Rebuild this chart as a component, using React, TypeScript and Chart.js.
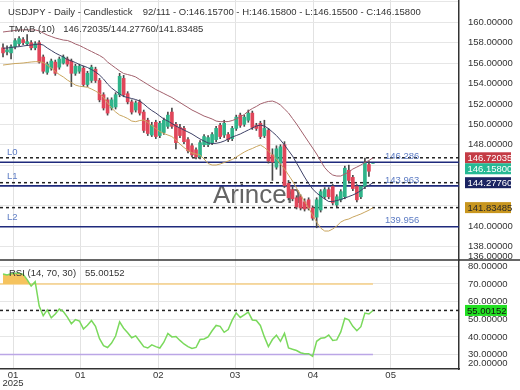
import React, { useEffect, useRef } from 'react';
import { Chart, registerables } from 'chart.js';

Chart.register(...registerables);

const FONT = "'Liberation Sans', Arial, sans-serif";

// ---------- data ----------
const symbolTitle = 'USDJPY - Daily - Candlestick';
const barCounter = '92/111';

const opens = [
  157.5, 157.1, 157.0, 157.6, 157.9, 158.3, 157.9, 158.0, 157.5, 158.0,
  156.6, 155.1, 155.5, 156.1, 155.6, 156.0, 156.4, 156.2, 155.0, 155.2,
  155.5, 153.9, 154.3, 155.4, 154.3, 152.9, 152.4, 151.6, 151.7, 152.9,
  154.5, 153.0, 152.2, 151.4, 152.2, 151.2, 150.4, 148.95, 150.2, 148.9,
  149.2, 149.8, 151.2, 150.0, 149.7, 149.6, 148.5, 147.9, 147.5, 146.8,
  148.0, 148.0, 148.2, 148.5, 149.9, 148.95, 149.0, 148.6, 149.6, 150.9,
  150.0, 150.4, 151.1, 149.9, 150.1, 148.9, 149.4, 147.0, 145.8, 146.2,
  148.0, 144.2, 143.6, 142.8, 142.9, 142.4, 142.6, 141.8, 140.9, 141.6,
  142.9, 143.6, 143.9, 142.1, 142.6, 142.9, 145.5, 144.8, 143.9, 142.9,
  143.9, 146.05, 146.157,
];
const highs = [
  157.9, 157.7, 157.8, 158.4, 158.6, 158.5, 158.8, 158.2, 158.1, 158.2,
  156.8, 156.1, 156.4, 156.3, 156.6, 156.8, 156.6, 156.4, 155.9, 155.9,
  155.7, 155.2, 155.8, 155.6, 154.5, 153.1, 152.6, 152.6, 153.1, 155.0,
  154.8, 153.2, 152.4, 152.3, 152.4, 151.4, 150.6, 150.2, 150.4, 150.3,
  150.6, 151.2, 151.6, 150.2, 150.0, 149.8, 148.7, 148.1, 147.7, 148.4,
  149.0, 148.9, 149.2, 149.8, 150.1, 150.4, 149.2, 149.8, 150.9, 151.1,
  150.9, 151.4, 151.3, 150.1, 150.3, 150.4, 149.6, 147.6, 147.9, 148.0,
  148.3, 144.5, 143.9, 143.0, 143.1, 142.7, 142.8, 142.0, 142.8, 143.6,
  143.8, 143.8, 144.1, 143.1, 143.6, 145.9, 146.0, 145.0, 144.1, 144.0,
  146.7, 146.35, 146.158,
];
const lows = [
  156.6, 156.8, 156.4, 157.4, 157.7, 157.8, 157.7, 157.3, 157.3, 156.0,
  155.0, 154.9, 155.3, 154.8, 155.4, 155.9, 155.7, 153.7, 154.8, 155.0,
  153.7, 153.7, 154.1, 154.1, 152.2, 151.4, 150.9, 151.4, 151.5, 152.7,
  152.7, 152.0, 151.0, 151.2, 150.9, 149.2, 148.9, 148.8, 148.6, 148.7,
  149.0, 149.6, 149.6, 147.6, 148.7, 148.1, 147.2, 146.8, 146.6, 146.6,
  147.8, 147.8, 148.0, 148.3, 148.6, 148.7, 148.3, 148.4, 149.4, 149.7,
  149.8, 150.2, 149.5, 149.4, 148.6, 148.7, 146.2, 144.5, 145.6, 145.0,
  143.8, 142.6, 142.5, 141.7, 141.6, 141.5, 141.6, 140.6, 139.86, 141.4,
  142.7, 142.7, 142.1, 141.9, 142.4, 142.7, 144.3, 143.5, 142.4, 142.7,
  143.7, 144.9, 146.155,
];
const closes = [
  157.0, 157.3, 157.6, 158.2, 158.4, 158.0, 158.1, 157.5, 157.9, 156.1,
  155.2, 155.9, 156.2, 155.0, 156.4, 156.6, 155.9, 155.0, 155.7, 155.7,
  153.9, 155.0, 155.6, 154.3, 152.4, 151.6, 151.1, 152.4, 152.9, 154.7,
  152.9, 152.2, 151.2, 152.1, 151.1, 149.4, 149.1, 149.9, 148.8, 150.1,
  150.4, 150.9, 149.8, 148.2, 148.9, 148.3, 147.4, 147.0, 146.8, 148.2,
  148.8, 148.7, 149.0, 149.6, 148.8, 150.1, 148.5, 149.6, 150.7, 149.9,
  150.7, 151.1, 149.7, 149.6, 148.8, 149.6, 146.4, 146.3, 147.6, 147.8,
  144.0, 142.8, 142.7, 141.9, 141.8, 141.7, 141.8, 140.8, 142.6, 143.4,
  143.6, 142.9, 142.3, 142.9, 143.4, 145.7, 144.5, 143.7, 142.6, 143.9,
  146.2, 145.4, 146.158,
];

const tmabUpper = [
  159.05, 159.10, 159.15, 159.20, 159.25, 159.25, 159.25, 159.25, 159.25, 159.15,
  158.95, 158.75, 158.61, 158.46, 158.36, 158.26, 158.22, 158.07, 157.87, 157.73,
  157.53, 157.33, 157.14, 156.94, 156.75, 156.50, 156.11, 155.81, 155.52, 155.23,
  154.98, 154.88, 154.78, 154.64, 154.39, 154.15, 153.90, 153.66, 153.41, 153.22,
  153.02, 152.82, 152.63, 152.38, 152.14, 151.89, 151.65, 151.40, 151.21, 151.01,
  150.81, 150.67, 150.52, 150.32, 150.26, 150.26, 150.27, 150.37, 150.52, 150.72,
  150.96, 151.30, 151.55, 151.75, 151.99, 152.14, 152.24, 152.28, 152.14, 151.89,
  151.50, 151.11, 150.57, 150.03, 149.44, 148.85, 148.26, 147.68, 147.09, 146.40,
  145.76, 145.32, 145.03, 144.93, 144.93, 145.13, 145.32, 145.62, 145.81, 146.01,
  146.26, 146.45, 146.72035,
];
const tmabMid = [
  157.45, 157.48, 157.53, 157.58, 157.61, 157.68, 157.73, 157.77, 157.82, 157.87,
  157.77, 157.48, 157.24, 156.99, 156.79, 156.60, 156.35, 156.21, 156.06, 155.86,
  155.72, 155.57, 155.37, 155.13, 154.83, 154.44, 153.95, 153.56, 153.26, 152.97,
  152.73, 152.63, 152.53, 152.43, 152.28, 151.99, 151.65, 151.35, 151.11, 150.81,
  150.52, 150.32, 150.08, 149.83, 149.64, 149.44, 149.25, 149.05, 148.80, 148.56,
  148.36, 148.17, 148.12, 148.14, 148.22, 148.36, 148.56, 148.75, 148.90, 149.05,
  149.25, 149.44, 149.64, 149.83, 149.93, 149.83, 149.59, 149.25, 148.90, 148.46,
  147.97, 147.43, 146.89, 146.21, 145.52, 144.83, 144.20, 143.66, 143.26, 142.97,
  142.68, 142.43, 142.43, 142.53, 142.63, 142.77, 142.92, 143.07, 143.26, 143.51,
  143.85, 144.02, 144.2776,
];
const tmabLower = [
  155.81, 155.86, 155.91, 155.96, 155.98, 156.01, 156.06, 156.11, 156.14, 156.14,
  156.06, 155.81, 155.52, 155.18, 154.88, 154.64, 154.34, 154.10, 153.85, 153.73,
  153.69, 153.63, 153.46, 153.26, 153.02, 152.63, 152.09, 151.60, 151.21, 150.91,
  150.76, 150.57, 150.32, 150.26, 150.37, 150.42, 150.18, 149.88, 149.59, 149.29,
  149.10, 148.95, 148.80, 148.46, 148.07, 147.73, 147.43, 147.19, 147.09, 146.99,
  146.60, 146.16, 146.01, 146.01, 146.11, 146.26, 146.40, 146.55, 146.79, 147.04,
  147.28, 147.48, 147.63, 147.82, 147.97, 147.73, 147.38, 146.99, 146.60, 146.11,
  145.62, 145.03, 144.44, 143.75, 143.07, 142.43, 141.79, 141.11, 140.42, 139.83,
  139.54, 139.54, 139.74, 140.03, 140.42, 140.62, 140.72, 140.91, 141.06, 141.21,
  141.40, 141.58, 141.83485,
];

const rsiValues = [
  75.7, 75.1, 75.8, 76.1, 76.1, 75.5, 72.5, 68.8, 71.3, 57.5,
  52.0, 55.3, 50.8, 53.0, 55.8, 54.4, 51.2, 47.5, 49.8, 49.0,
  44.5, 46.6, 49.3, 46.0, 39.0, 35.0, 34.0, 36.5, 40.5, 48.5,
  44.9, 42.4, 39.5, 40.6, 37.5, 34.5, 33.7, 35.5, 34.5, 33.7,
  37.0, 42.0, 40.0, 40.2, 38.0, 36.0, 34.5, 33.4, 34.0, 38.5,
  38.8, 40.0, 43.5, 46.5, 46.0, 42.6, 44.2, 49.5, 53.5, 51.0,
  52.5, 54.0, 49.6, 49.3, 46.5, 40.0, 34.5, 38.5, 41.0, 37.5,
  42.0, 33.8, 33.0, 32.3, 31.0, 30.5, 30.5, 29.0, 37.5, 39.2,
  39.5, 41.0, 38.0, 38.3, 42.8, 50.6, 49.7, 46.0, 43.5, 45.8,
  53.5, 53.0, 55.00152,
];
const rsiUpperLevel = 70;
const rsiLowerLevel = 30;

const levelNames = ['L0', 'L1', 'L2'];
const levelValues = [146.286, 143.963, 139.956];

const xTickPositions = [2.5, 19.2, 38.6, 57.7, 77.1, 96.4];
const xTickLabels: (string | string[])[] = [['01', '2025'], '01', '02', '03', '04', '05'];

const priceTicks = [138, 140, 142, 144, 146, 148, 150, 152, 154, 156, 158, 160, 162];
const priceTicksUnlabelled = [142, 144, 146, 162];
const priceClampedTick = 136;
const rsiTicks = [30, 40, 50, 60, 70, 80];
const rsiClampedTick = 20;

const watermarkText = 'Arincen';

// ---------- colours ----------
const UP = '#2fb48a';
const DOWN = '#e0465a';
const WICK = '#4a4a4a';
const C_UPPER = '#a2606c';
const C_MID = '#3d4066';
const C_LOWER = '#c9a55e';
const C_LEVEL = '#1f2a7c';
const C_LEVEL_TXT = '#5d7cc4';
const TXT = '#333333';

const last = closes.length - 1;

const noPad = (s: any) => {
  s.paddingTop = 0;
  s.paddingBottom = 0;
  s.paddingLeft = 0;
  s.paddingRight = 0;
};

const overlayPlugin = {
  id: 'overlay',
  beforeDatasetsDraw(chart: any) {
    const { ctx, chartArea, scales } = chart;
    const ys = scales.y;
    const rs = scales.yRsi;
    ctx.save();
    ctx.font = `26px ${FONT}`;
    ctx.fillStyle = 'rgba(88,88,88,0.92)';
    ctx.textAlign = 'left';
    ctx.textBaseline = 'alphabetic';
    ctx.fillText(watermarkText, 213, 203);

    ctx.setLineDash([3, 3]);
    ctx.strokeStyle = '#222';
    ctx.lineWidth = 1.5;
    [tmabUpper[last], tmabMid[last], tmabLower[last]].forEach((v) => {
      const py = ys.getPixelForValue(v);
      ctx.beginPath();
      ctx.moveTo(chartArea.left, py);
      ctx.lineTo(chartArea.right, py);
      ctx.stroke();
    });
    const pr = rs.getPixelForValue(rsiValues[last]);
    ctx.beginPath();
    ctx.moveTo(chartArea.left, pr);
    ctx.lineTo(chartArea.right, pr);
    ctx.stroke();
    ctx.setLineDash([]);

    ctx.font = `9.5px ${FONT}`;
    ctx.textBaseline = 'middle';
    levelValues.forEach((v, k) => {
      const py = ys.getPixelForValue(v);
      ctx.strokeStyle = C_LEVEL;
      ctx.lineWidth = 1.6;
      ctx.beginPath();
      ctx.moveTo(chartArea.left, py);
      ctx.lineTo(chartArea.right, py);
      ctx.stroke();
      ctx.fillStyle = C_LEVEL_TXT;
      ctx.fillText(levelNames[k], 7, py - 9.5);
      ctx.fillText(v.toFixed(3), 385, py - 6);
    });
    ctx.restore();
  },
  afterDraw(chart: any) {
    const { ctx, scales, width } = chart;
    const ys = scales.y;
    const rs = scales.yRsi;
    ctx.save();
    ctx.strokeStyle = '#333';
    ctx.lineWidth = 1.5;
    ctx.beginPath();
    ctx.moveTo(0, ys.bottom);
    ctx.lineTo(width, ys.bottom);
    ctx.stroke();

    ctx.font = `9.5px ${FONT}`;
    ctx.textBaseline = 'middle';
    ctx.textAlign = 'left';
    ctx.fillStyle = TXT;
    ctx.fillText(symbolTitle, 8, 12.7);
    const hdr = `${barCounter} - O:${opens[last].toFixed(5)} - H:${highs[last].toFixed(5)} - L:${lows[last].toFixed(5)} - C:${closes[last].toFixed(5)}`;
    ctx.fillText(hdr, 142.7, 12.7);
    ctx.fillText('TMAB (10)', 9, 29.3);
    ctx.fillText(`${tmabUpper[last].toFixed(5)}/${tmabMid[last].toFixed(5)}/${tmabLower[last].toFixed(5)}`, 63.3, 29.3);
    ctx.fillText(`RSI (14, ${rsiUpperLevel}, ${rsiLowerLevel})`, 9, rs.top + 13.3);
    ctx.fillText(rsiValues[last].toFixed(5), 85, rs.top + 13.3);

    ctx.fillText(priceClampedTick.toFixed(5), 468, Math.min(ys.getPixelForValue(priceClampedTick), ys.bottom - 4));
    ctx.fillText(rsiClampedTick.toFixed(5), 468, Math.min(rs.getPixelForValue(rsiClampedTick), rs.bottom - 5.5));

    const boxes = [
      { v: tmabUpper[last], bg: '#c43c45', fg: '#ffffff' },
      { v: closes[last], bg: '#26b994', fg: '#ffffff' },
      { v: tmabMid[last], bg: '#1b2462', fg: '#ffffff' },
      { v: tmabLower[last], bg: '#c8961f', fg: '#2a2a2a' },
    ];
    const h = 11;
    let prevBottom = -Infinity;
    boxes
      .map((b) => ({ ...b, y: ys.getPixelForValue(b.v) }))
      .sort((a, b) => a.y - b.y)
      .forEach((b) => {
        let top = b.y - h / 2;
        if (top < prevBottom) top = prevBottom;
        prevBottom = top + h;
        ctx.fillStyle = b.bg;
        ctx.fillRect(465, top, 46, h);
        ctx.fillStyle = b.fg;
        ctx.fillText(b.v.toFixed(5), 467.5, top + h / 2 + 0.5);
      });
    const ry = rs.getPixelForValue(rsiValues[last]);
    ctx.fillStyle = '#22e022';
    ctx.fillRect(465, ry - h / 2, 42, h);
    ctx.fillStyle = '#111';
    ctx.fillText(rsiValues[last].toFixed(5), 467, ry + 0.5);
    ctx.restore();
  },
};

export default function App() {
  const ref = useRef<HTMLCanvasElement | null>(null);

  useEffect(() => {
    if (!ref.current) return;
    const idx = closes.map((_, i) => i);
    const lineDs = (label: string, arr: number[], color: string) => ({
      type: 'line' as const,
      label,
      data: idx.map((i) => ({ x: i, y: arr[i] })),
      borderColor: color,
      borderWidth: 1,
      pointRadius: 0,
      tension: 0,
      fill: false,
      yAxisID: 'y',
      order: 0,
    });
    const tickFont = { family: FONT, size: 9.5 };

    const chart = new Chart(ref.current, {
      type: 'bar',
      data: {
        datasets: [
          {
            type: 'bar',
            label: 'wick',
            data: idx.map((i) => ({ x: i, y: [lows[i], highs[i]] })) as any,
            backgroundColor: WICK,
            barThickness: 1,
            grouped: false,
            yAxisID: 'y',
            order: 3,
          },
          {
            type: 'bar',
            label: 'body',
            data: idx.map((i) => ({ x: i, y: [opens[i], closes[i]] })) as any,
            backgroundColor: idx.map((i) => (closes[i] >= opens[i] ? UP : DOWN)),
            barThickness: 3,
            grouped: false,
            yAxisID: 'y',
            order: 2,
          },
          lineDs('upper', tmabUpper, C_UPPER) as any,
          lineDs('mid', tmabMid, C_MID) as any,
          lineDs('lower', tmabLower, C_LOWER) as any,
          {
            type: 'line',
            label: 'rsi70',
            data: [{ x: -0.75, y: rsiUpperLevel }, { x: last, y: rsiUpperLevel }],
            borderColor: '#f6cf86',
            borderWidth: 1.5,
            pointRadius: 0,
            yAxisID: 'yRsi',
            order: 1,
          } as any,
          {
            type: 'line',
            label: 'rsi30',
            data: [{ x: -0.75, y: rsiLowerLevel }, { x: last, y: rsiLowerLevel }],
            borderColor: '#bba6e6',
            borderWidth: 1.5,
            pointRadius: 0,
            yAxisID: 'yRsi',
            order: 1,
          } as any,
          {
            type: 'line',
            label: 'rsi',
            data: idx.map((i) => ({ x: i, y: rsiValues[i] })),
            borderColor: '#7ad95c',
            borderWidth: 1.5,
            pointRadius: 0,
            tension: 0,
            fill: { target: { value: rsiUpperLevel }, above: '#f5c35e', below: 'rgba(0,0,0,0)' },
            yAxisID: 'yRsi',
            order: 0,
          } as any,
        ],
      },
      options: {
        animation: false,
        responsive: false,
        maintainAspectRatio: false,
        devicePixelRatio: 1,
        events: [],
        layout: { padding: 0 },
        plugins: { legend: { display: false }, tooltip: { enabled: false }, title: { display: false } },
        scales: {
          x: {
            type: 'linear',
            axis: 'x',
            min: -0.75,
            max: 113.4,
            offset: false,
            afterBuildTicks: (s: any) => {
              s.ticks = xTickPositions.map((v) => ({ value: v }));
            },
            afterFit: (s: any) => {
              s.height = 21;
              noPad(s);
            },
            ticks: {
              autoSkip: false,
              maxRotation: 0,
              padding: 2,
              color: TXT,
              font: { ...tickFont, lineHeight: 0.9 },
              callback: (_v: any, i: number) => xTickLabels[i],
            },
            grid: { color: '#e2e2e2', drawTicks: false, offset: false },
            border: { display: true, color: '#333', width: 1.5 },
          },
          y: {
            type: 'linear',
            axis: 'y',
            position: 'right',
            stack: 'panels',
            stackWeight: 260,
            min: 136.7,
            max: 162.186,
            afterBuildTicks: (s: any) => {
              s.ticks = priceTicks.map((v) => ({ value: v }));
            },
            afterFit: (s: any) => {
              s.width = 61;
              noPad(s);
            },
            ticks: {
              autoSkip: false,
              padding: 9,
              color: TXT,
              font: tickFont,
              callback: (v: any) => (priceTicksUnlabelled.includes(Number(v)) ? '' : Number(v).toFixed(5)),
            },
            grid: { color: '#e6e6e6', drawTicks: false },
            border: { display: true, color: '#333', width: 1.5 },
          },
          yRsi: {
            type: 'linear',
            axis: 'y',
            position: 'right',
            stack: 'panels',
            stackWeight: 109,
            min: 21.8,
            max: 83.6,
            afterBuildTicks: (s: any) => {
              s.ticks = rsiTicks.map((v) => ({ value: v }));
            },
            afterFit: (s: any) => {
              s.width = 61;
              noPad(s);
            },
            ticks: {
              autoSkip: false,
              padding: 9,
              color: TXT,
              font: tickFont,
              callback: (v: any) => Number(v).toFixed(5),
            },
            grid: { color: '#e6e6e6', drawTicks: false },
            border: { display: true, color: '#333', width: 1.5 },
          },
        },
      } as any,
      plugins: [overlayPlugin],
    });
    return () => chart.destroy();
  }, []);

  return (
    <div style={{ position: 'absolute', left: 0, top: 0, width: 520, height: 390, background: '#fff' }}>
      <canvas ref={ref} width={520} height={390} style={{ display: 'block' }} />
    </div>
  );
}
